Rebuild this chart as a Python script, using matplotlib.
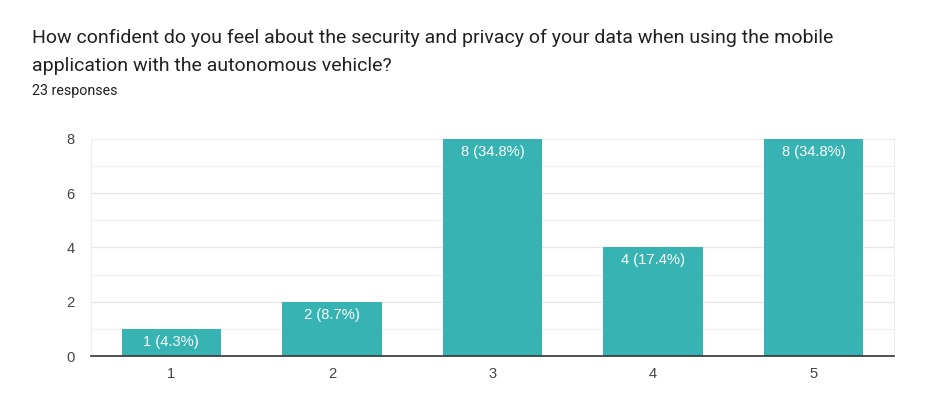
import numpy as np
import matplotlib.pyplot as plt

question_lines = ["How confident do you feel about the security and privacy of your data when using the mobile",
                  "application with the autonomous vehicle?"]
responses = "23 responses"
categories = ['1', '2', '3', '4', '5']
counts = [1, 2, 8, 4, 8]
total = 23

plt.rcParams['font.family'] = ['Roboto', 'DejaVu Sans']
chart_font = ['Liberation Sans', 'DejaVu Sans']

fig = plt.figure(figsize=(9.46, 4.16), dpi=100)
ax = fig.add_axes([91/946, 1 - 356/416, 803/946, 217/416])

x = np.arange(len(categories))
bars = ax.bar(x, counts, width=0.62, color='#36b3b2', zorder=3)

for b, c in zip(bars, counts):
    pct = c / total * 100
    ax.annotate(f"{c} ({pct:.1f}%)", (b.get_x() + b.get_width() / 2, c),
                xytext=(0, -4.2), textcoords='offset points',
                ha='center', va='top', color='white', fontsize=10.6,
                family=chart_font, zorder=4)

ax.set_xlim(-0.5, len(categories) - 0.5)
ax.set_ylim(0, 8)
ax.set_yticks([0, 2, 4, 6, 8])
ax.set_yticks([1, 3, 5, 7], minor=True)
ax.set_xticks(x)
ax.set_xticklabels(categories)
for lbl in ax.get_xticklabels() + ax.get_yticklabels():
    lbl.set_family(chart_font)
ax.grid(axis='y', which='major', color='#e8e8e8', linewidth=1, zorder=0)
ax.grid(axis='y', which='minor', color='#f3f3f3', linewidth=1, zorder=0)
ax.tick_params(which='both', length=0, labelsize=10.6, colors='#444444')
ax.tick_params(axis='x', pad=8)
ax.tick_params(axis='y', pad=12)

for s in ['left', 'right', 'top']:
    ax.spines[s].set_color('#eeeeee')
ax.spines['bottom'].set_color('#333333')
ax.spines['bottom'].set_linewidth(1.2)
ax.spines['bottom'].set_zorder(5)

for i, line in enumerate(question_lines):
    fig.text(32/946, 1 - (43 + 28 * i)/416, line, ha='left', va='baseline',
             fontsize=14, color='#202124')
fig.text(32/946, 1 - 95/416, responses, ha='left', va='baseline', fontsize=10.3,
         color='#202124')

fig.savefig('out.png', dpi=100, facecolor='white')
